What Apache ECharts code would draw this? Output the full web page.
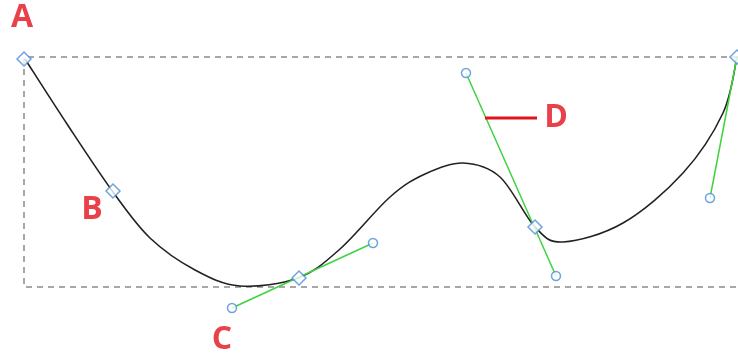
<!DOCTYPE html>
<html>
  <head>
    <title></title>
    <meta charset="UTF-8" />
    <script src="https://cdn.jsdelivr.net/npm/echarts@6/dist/echarts.min.js"></script>
    <style>
      body { margin: 0; background: #fff; }
    </style>
  </head>
  <body>
    <div id="main"></div>
    <script>
      // points, in picture units (x right, y down)
      const curve = [
        [25, 59], [67, 124], [113, 192], [150, 238], [195, 270], [240, 286],
        [298, 278], [340, 249], [390, 197], [425, 174], [463, 163], [500, 177],
        [535, 227], [563, 242], [623, 223], [683, 173], [723, 113], [737, 57],
      ];
      const box = [[738, 57], [24, 57], [24, 287], [738, 287]];
      const anchors = [[24, 59], [113, 191], [299, 278], [535, 227], [737, 57]];
      const handles = [
        [[232, 308], [373, 243]],
        [[466, 73], [556, 276]],
        [[737, 57], [710, 198]],
      ];
      const handleEnds = [[232, 308], [373, 243], [466, 73], [556, 276], [710, 198]];
      const letters = [
        { name: 'A', value: [22, 18] },
        { name: 'B', value: [92, 210] },
        { name: 'C', value: [222, 340] },
        { name: 'D', value: [556, 118] },
      ];
      const pointer = [[485, 118], [537, 118]];

      const width = 738;
      const height = 356;
      const main = document.getElementById('main');
      main.style.width = `${width}px`;
      main.style.height = `${height}px`;

      const myChart = echarts.init(main);
      const green = '#3fd23f';
      const blue = '#4a8fd8';

      const handleSeries = handles.map((h) => ({
        type: 'line',
        data: h,
        symbol: 'none',
        silent: true,
        z: 3,
        lineStyle: { color: green, width: 1.5 },
      }));

      // smooth path through the read points (catmull-rom in pixel space)
      function renderCurve(params, api) {
        if (params.dataIndex !== 0) return null;
        const p = curve.map((c) => api.coord(c));
        let d = `M${p[0][0]} ${p[0][1]}`;
        for (let i = 0; i < p.length - 1; i++) {
          const p0 = p[Math.max(i - 1, 0)];
          const p1 = p[i];
          const p2 = p[i + 1];
          const p3 = p[Math.min(i + 2, p.length - 1)];
          const c1x = p1[0] + (p2[0] - p0[0]) / 6;
          const c1y = p1[1] + (p2[1] - p0[1]) / 6;
          const c2x = p2[0] - (p3[0] - p1[0]) / 6;
          const c2y = p2[1] - (p3[1] - p1[1]) / 6;
          d += ` C${c1x} ${c1y} ${c2x} ${c2y} ${p2[0]} ${p2[1]}`;
        }
        return {
          type: 'path',
          shape: { pathData: d },
          style: { stroke: '#222', fill: 'none', lineWidth: 1.6 },
        };
      }

      const option = {
        animation: false,
        grid: { left: 0, right: 0, top: 0, bottom: 0 },
        xAxis: { type: 'value', min: 0, max: width, show: false },
        yAxis: { type: 'value', min: 0, max: height, inverse: true, show: false },
        series: [
          {
            type: 'line',
            data: box,
            symbol: 'none',
            silent: true,
            z: 1,
            lineStyle: { color: '#8a8a8a', width: 1.5, type: [6, 5] },
          },
          {
            type: 'custom',
            coordinateSystem: 'cartesian2d',
            data: curve,
            renderItem: renderCurve,
            silent: true,
            clip: false,
            z: 2,
          },
          ...handleSeries,
          {
            type: 'line',
            data: pointer,
            symbol: 'none',
            silent: true,
            z: 3,
            lineStyle: { color: '#e0141c', width: 3 },
          },
          {
            type: 'scatter',
            data: handleEnds,
            symbol: 'circle',
            symbolSize: 9,
            silent: true,
            z: 4,
            itemStyle: { color: '#fff', borderColor: blue, borderWidth: 1.5 },
          },
          {
            type: 'scatter',
            data: anchors,
            symbol: 'diamond',
            symbolSize: 14,
            silent: true,
            z: 5,
            itemStyle: { color: '#fff', borderColor: blue, borderWidth: 1.5 },
          },
          {
            type: 'scatter',
            data: letters,
            symbolSize: 0,
            silent: true,
            z: 6,
            label: {
              show: true,
              position: 'inside',
              formatter: '{b}',
              color: '#e3121b',
              fontSize: 32,
              fontWeight: 'bold',
              fontFamily: 'Open Sans',
            },
          },
        ],
      };
      myChart.setOption(option);
    </script>
  </body>
</html>
